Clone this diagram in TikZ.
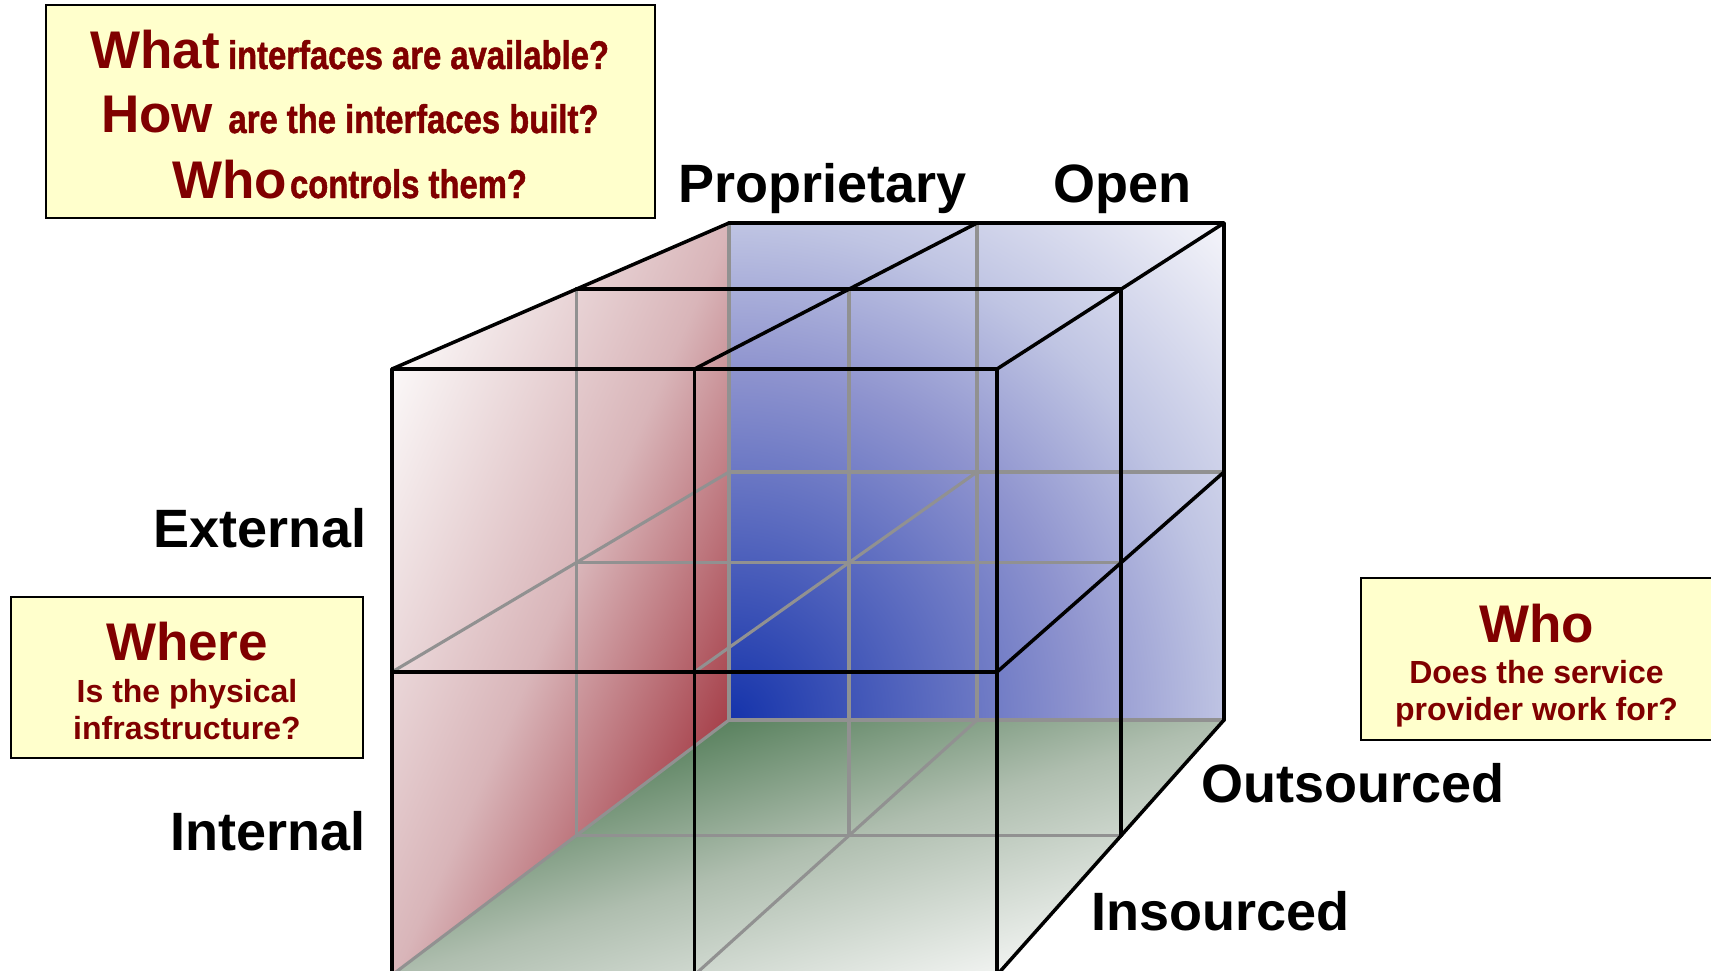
\documentclass[tikz,border=0pt]{standalone}
\usepackage{fontspec}
\setmainfont{Liberation Sans}
\newfontfamily\narrowfont[FakeStretch=0.82,FakeBold=1.2]{Liberation Sans}
\usetikzlibrary{calc}
\definecolor{boxfill}{RGB}{255,255,204}
\definecolor{qred}{RGB}{128,0,0}
\definecolor{gridgrey}{RGB}{145,145,145}
\definecolor{redlight}{RGB}{251,248,248}
\definecolor{reddark}{RGB}{165,62,72}
\definecolor{greendark}{RGB}{90,130,95}
\definecolor{greenlight}{RGB}{242,244,242}
\pgfdeclareradialshading{bluewall}{\pgfpointorigin}{rgb(0bp)=(0.08,0.2,0.67); rgb(12.4bp)=(0.56,0.58,0.81); rgb(17.5bp)=(0.75,0.77,0.89); rgb(24.7bp)=(0.96,0.96,0.98); rgb(50bp)=(0.96,0.96,0.98)}
\pgfdeclarehorizontalshading{redwall}{100bp}{rgb(0bp)=(0.984,0.973,0.973); rgb(25bp)=(0.984,0.973,0.973); rgb(52.5bp)=(0.85,0.71,0.725); rgb(75bp)=(0.647,0.243,0.282); rgb(100bp)=(0.647,0.243,0.282)}
\pgfdeclarehorizontalshading{greenwall}{100bp}{rgb(0bp)=(0.353,0.51,0.373); rgb(25bp)=(0.353,0.51,0.373); rgb(47.5bp)=(0.686,0.745,0.686); rgb(75bp)=(0.949,0.957,0.949); rgb(100bp)=(0.949,0.957,0.949)}
\tikzset{
  blk/.style={line width=3.5pt, black, line cap=round, line join=round},
  gry/.style={line width=3.1pt, gridgrey, line cap=round},
  qbox/.style={draw=black, line width=2pt, fill=boxfill, inner sep=0pt},
  lab/.style={font=\fontsize{54}{60}\selectfont\bfseries, inner sep=0pt},
  bigq/.style={font=\fontsize{53}{60}\selectfont\bfseries, text=qred, inner sep=0pt},
  narrowq/.style={font=\narrowfont\fontsize{40}{44}\selectfont\bfseries, text=qred, inner sep=0pt},
  smallq/.style={font=\fontsize{32}{36}\selectfont\bfseries, text=qred, inner sep=0pt},
}
\begin{document}
\begin{tikzpicture}[x=1pt,y=-1pt]
\useasboundingbox (0,0) rectangle (1711,971);
\fill[white] (0,0) rectangle (1711,971);
% grid corner coordinates: front (f), back (k), middle (m)
\foreach \c/\x/\y in {LT/392/369, MT/694.5/369, RT/997/369, LC/392/672, MC/694.5/672, RC/997/672, LB/392/975, MB/694.5/975, RB/997/975}
  \coordinate (f\c) at (\x,\y);
\foreach \c/\x/\y in {LT/729/223, MT/977/223, RT/1224/223, LC/729/472, MC/977/472, RC/1224/472, LB/729/720, MB/977/720, RB/1224/720}
  \coordinate (k\c) at (\x,\y);
\foreach \c in {LT,MT,RT,LC,MC,RC,LB,MB,RB}
  \coordinate (m\c) at ($(f\c)!0.547!(k\c)$);

% blue back wall
\begin{scope}
  \clip (kLT) rectangle (kRB);
  \shade[shading=bluewall] (kLB) circle (710);
\end{scope}
% red left wall
\begin{scope}
  \clip (fLT) -- (kLT) -- (kLB) -- (fLB) -- cycle;
  \fill[redlight] (0,0) rectangle (1000,1000);
  \begin{scope}[transform canvas={rotate around={-24.08:(fLT)}}]
    \shade[shading=redwall] (fLT) ++(0,-1500) rectangle ++(455,3000);
    \fill[reddark] (fLT) ++(455,-1500) rectangle ++(1500,3000);
  \end{scope}
\end{scope}
% green floor
\begin{scope}
  \clip (fLB) -- (fRB) -- (kRB) -- (kLB) -- cycle;
  \fill[greendark] (300,700) rectangle (1300,1000);
  \begin{scope}[transform canvas={rotate around={-72.9:(kLB)}}]
    \shade[shading=greenwall] (kLB) ++(0,-1500) rectangle ++(326,3000);
    \fill[greenlight] (kLB) ++(326,-1500) rectangle ++(1500,3000);
  \end{scope}
\end{scope}

% grey inner lines
\draw[gry] (mLT) -- (mLB) -- (mRB);
\draw[gry] (mMT) -- (mMB);
\draw[gry] (mLC) -- (mRC);
\draw[gry] (kLT) -- (kLB) -- (kRB);
\draw[gry] (kMT) -- (kMB);
\draw[gry] (kLC) -- (kRC);
\draw[gry] (fLC) -- (kLC);
\draw[gry] (fMC) -- (kMC);
\draw[gry] (fLB) -- (kLB);
\draw[gry] (fMB) -- (kMB);

% black edges
\draw[blk] (kLT) -- (kRT) -- (kRB);
\draw[blk] (mLT) -- (mRT) -- (mRB);
\draw[blk] (fLT) -- (kLT);
\draw[blk] (fMT) -- (kMT);
\draw[blk] (fRT) -- (kRT);
\draw[blk] (fRC) -- (kRC);
\draw[blk] (fRB) -- (kRB);
\draw[blk] (fLT) -- (fRT) -- (fRB) -- (fLB) -- cycle;
\draw[blk] (fMT) -- (fMB);
\draw[blk] (fLC) -- (fRC);

% axis labels
\node[lab, anchor=base] (prop) at (822.5,202) {Proprietary};
\node[lab, anchor=base] (open) at (1122.5,202) {Open};
\node[lab, anchor=base east] (ext) at (367,547) {External};
\node[lab, anchor=base east] (int) at (366,850) {Internal};
\node[lab, anchor=base west] (out) at (1201,802) {Outsourced};
\node[lab, anchor=base west] (ins) at (1091,930) {Insourced};

% question boxes
\node[qbox, minimum width=609pt, minimum height=213pt] (box1) at (350.5,111.5) {};
\node[bigq, anchor=base] (what) at (155,69) {What};
\node[narrowq, anchor=base] (whatq) at (418.5,69) {interfaces are available?};
\node[bigq, anchor=base] (how) at (157,133) {How};
\node[narrowq, anchor=base] (howq) at (413.5,133) {are the interfaces built?};
\node[bigq, anchor=base] (who1) at (229.5,198) {Who};
\node[narrowq, anchor=base] (who1q) at (408.5,198) {controls them?};

\node[qbox, minimum width=352pt, minimum height=161pt] (box2) at (187,677.5) {};
\node[bigq, anchor=base] (where) at (187,660) {Where};
\node[smallq, anchor=base] (where1) at (187,702) {Is the physical};
\node[smallq, anchor=base] (where2) at (187,739) {infrastructure?};

\node[qbox, minimum width=353pt, minimum height=162pt] (box3) at (1537.5,659) {};
\node[bigq, anchor=base] (who2) at (1536.5,642) {Who};
\node[smallq, anchor=base] (who21) at (1536.5,683) {Does the service};
\node[smallq, anchor=base] (who22) at (1536.5,720) {provider work for?};
\end{tikzpicture}
\end{document}
